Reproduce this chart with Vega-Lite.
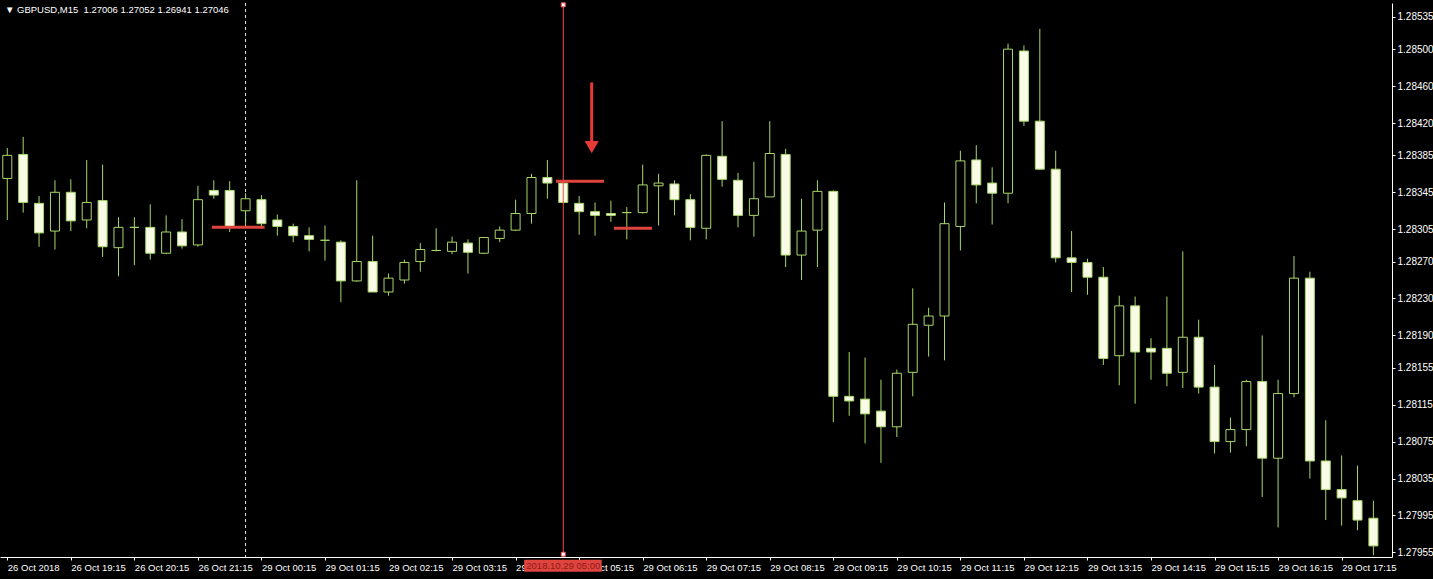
{
  "$schema": "https://vega.github.io/schema/vega-lite/v6.json",
  "width": 1392,
  "height": 554,
  "autosize": {"type": "none"},
  "padding": {"left": 0, "top": 3, "right": 41, "bottom": 22},
  "background": "#000000",
  "title": {
    "text": "▼ GBPUSD,M15 \u00a01.27006 1.27052 1.26941 1.27046",
    "anchor": "start",
    "frame": "group",
    "orient": "top",
    "baseline": "top",
    "offset": -3,
    "dx": 5,
    "dy": 11,
    "color": "#ffffff",
    "font": "Liberation Sans",
    "fontSize": 9.5,
    "fontWeight": "normal"
  },
  "config": {
    "view": {"stroke": null},
    "axis": {
      "domainColor": "#ffffff",
      "tickColor": "#ffffff",
      "labelColor": "#ffffff",
      "grid": false,
      "labelFont": "Liberation Sans",
      "labelFontSize": 10,
      "domainWidth": 1,
      "tickWidth": 1,
      "title": null
    }
  },
  "datasets": {
    "candles": [
      {"k":0,"o":1.28360,"h":1.28393,"l":1.28315,"c":1.28385},
      {"k":1,"o":1.28386,"h":1.28405,"l":1.28323,"c":1.28334},
      {"k":2,"o":1.28333,"h":1.28341,"l":1.28286,"c":1.28301},
      {"k":3,"o":1.28303,"h":1.28358,"l":1.28283,"c":1.28345},
      {"k":4,"o":1.28345,"h":1.28359,"l":1.28303,"c":1.28314},
      {"k":5,"o":1.28315,"h":1.28380,"l":1.28306,"c":1.28334},
      {"k":6,"o":1.28336,"h":1.28375,"l":1.28275,"c":1.28286},
      {"k":7,"o":1.28285,"h":1.28318,"l":1.28254,"c":1.28307},
      {"k":8,"o":1.28307,"h":1.28318,"l":1.28266,"c":1.28307},
      {"k":9,"o":1.28307,"h":1.28332,"l":1.28272,"c":1.28279},
      {"k":10,"o":1.28279,"h":1.28320,"l":1.28278,"c":1.28302},
      {"k":11,"o":1.28302,"h":1.28316,"l":1.28284,"c":1.28287},
      {"k":12,"o":1.28288,"h":1.28352,"l":1.28286,"c":1.28337},
      {"k":13,"o":1.28347,"h":1.28358,"l":1.28338,"c":1.28342},
      {"k":14,"o":1.28347,"h":1.28357,"l":1.28302,"c":1.28308},
      {"k":15,"o":1.28325,"h":1.28344,"l":1.28308,"c":1.28338},
      {"k":16,"o":1.28337,"h":1.28342,"l":1.28306,"c":1.28311},
      {"k":17,"o":1.28315,"h":1.28321,"l":1.28298,"c":1.28308},
      {"k":18,"o":1.28308,"h":1.28311,"l":1.28291,"c":1.28298},
      {"k":19,"o":1.28298,"h":1.28307,"l":1.28281,"c":1.28294},
      {"k":20,"o":1.28293,"h":1.28309,"l":1.28271,"c":1.28293},
      {"k":21,"o":1.28291,"h":1.28293,"l":1.28226,"c":1.28249},
      {"k":22,"o":1.28249,"h":1.28358,"l":1.28248,"c":1.28270},
      {"k":23,"o":1.28270,"h":1.28298,"l":1.28237,"c":1.28237},
      {"k":24,"o":1.28237,"h":1.28257,"l":1.28233,"c":1.28252},
      {"k":25,"o":1.28250,"h":1.28272,"l":1.28246,"c":1.28269},
      {"k":26,"o":1.28270,"h":1.28290,"l":1.28259,"c":1.28283},
      {"k":27,"o":1.28282,"h":1.28306,"l":1.28281,"c":1.28282},
      {"k":28,"o":1.28281,"h":1.28297,"l":1.28278,"c":1.28291},
      {"k":29,"o":1.28290,"h":1.28294,"l":1.28257,"c":1.28280},
      {"k":30,"o":1.28279,"h":1.28296,"l":1.28278,"c":1.28296},
      {"k":31,"o":1.28295,"h":1.28308,"l":1.28291,"c":1.28304},
      {"k":32,"o":1.28304,"h":1.28337,"l":1.28303,"c":1.28322},
      {"k":33,"o":1.28322,"h":1.28365,"l":1.28311,"c":1.28361},
      {"k":34,"o":1.28361,"h":1.28380,"l":1.28338,"c":1.28355},
      {"k":35,"o":1.28355,"h":1.28357,"l":1.28333,"c":1.28334},
      {"k":36,"o":1.28333,"h":1.28341,"l":1.28299,"c":1.28324},
      {"k":37,"o":1.28324,"h":1.28334,"l":1.28298,"c":1.28320},
      {"k":38,"o":1.28322,"h":1.28336,"l":1.28313,"c":1.28320},
      {"k":39,"o":1.28323,"h":1.28329,"l":1.28294,"c":1.28323},
      {"k":40,"o":1.28323,"h":1.28375,"l":1.28322,"c":1.28353},
      {"k":41,"o":1.28352,"h":1.28365,"l":1.28309,"c":1.28355},
      {"k":42,"o":1.28354,"h":1.28358,"l":1.28320,"c":1.28337},
      {"k":43,"o":1.28337,"h":1.28343,"l":1.28293,"c":1.28307},
      {"k":44,"o":1.28306,"h":1.28386,"l":1.28294,"c":1.28385},
      {"k":45,"o":1.28384,"h":1.28422,"l":1.28351,"c":1.28359},
      {"k":46,"o":1.28358,"h":1.28366,"l":1.28307,"c":1.28320},
      {"k":47,"o":1.28320,"h":1.28378,"l":1.28297,"c":1.28338},
      {"k":48,"o":1.28340,"h":1.28422,"l":1.28340,"c":1.28387},
      {"k":49,"o":1.28386,"h":1.28392,"l":1.28264,"c":1.28277},
      {"k":50,"o":1.28277,"h":1.28338,"l":1.28250,"c":1.28303},
      {"k":51,"o":1.28304,"h":1.28358,"l":1.28264,"c":1.28346},
      {"k":52,"o":1.28346,"h":1.28347,"l":1.28096,"c":1.28124},
      {"k":53,"o":1.28124,"h":1.28172,"l":1.28103,"c":1.28119},
      {"k":54,"o":1.28121,"h":1.28166,"l":1.28073,"c":1.28105},
      {"k":55,"o":1.28108,"h":1.28142,"l":1.28052,"c":1.28091},
      {"k":56,"o":1.28091,"h":1.28153,"l":1.28080,"c":1.28149},
      {"k":57,"o":1.28150,"h":1.28241,"l":1.28124,"c":1.28202},
      {"k":58,"o":1.28201,"h":1.28220,"l":1.28167,"c":1.28211},
      {"k":59,"o":1.28211,"h":1.28334,"l":1.28163,"c":1.28311},
      {"k":60,"o":1.28308,"h":1.28390,"l":1.28282,"c":1.28379},
      {"k":61,"o":1.28380,"h":1.28396,"l":1.28333,"c":1.28353},
      {"k":62,"o":1.28355,"h":1.28372,"l":1.28310,"c":1.28344},
      {"k":63,"o":1.28344,"h":1.28506,"l":1.28333,"c":1.28500},
      {"k":64,"o":1.28498,"h":1.28504,"l":1.28417,"c":1.28422},
      {"k":65,"o":1.28422,"h":1.28522,"l":1.28369,"c":1.28370},
      {"k":66,"o":1.28370,"h":1.28390,"l":1.28269,"c":1.28274},
      {"k":67,"o":1.28274,"h":1.28303,"l":1.28237,"c":1.28269},
      {"k":68,"o":1.28269,"h":1.28273,"l":1.28234,"c":1.28253},
      {"k":69,"o":1.28253,"h":1.28264,"l":1.28158,"c":1.28165},
      {"k":70,"o":1.28168,"h":1.28233,"l":1.28136,"c":1.28222},
      {"k":71,"o":1.28222,"h":1.28232,"l":1.28116,"c":1.28172},
      {"k":72,"o":1.28176,"h":1.28187,"l":1.28142,"c":1.28172},
      {"k":73,"o":1.28176,"h":1.28232,"l":1.28135,"c":1.28149},
      {"k":74,"o":1.28150,"h":1.28281,"l":1.28133,"c":1.28188},
      {"k":75,"o":1.28188,"h":1.28207,"l":1.28127,"c":1.28134},
      {"k":76,"o":1.28134,"h":1.28158,"l":1.28062,"c":1.28075},
      {"k":77,"o":1.28075,"h":1.28101,"l":1.28063,"c":1.28088},
      {"k":78,"o":1.28088,"h":1.28142,"l":1.28070,"c":1.28140},
      {"k":79,"o":1.28140,"h":1.28190,"l":1.28015,"c":1.28057},
      {"k":80,"o":1.28057,"h":1.28142,"l":1.27982,"c":1.28127},
      {"k":81,"o":1.28127,"h":1.28276,"l":1.28123,"c":1.28252},
      {"k":82,"o":1.28252,"h":1.28259,"l":1.28035,"c":1.28054},
      {"k":83,"o":1.28054,"h":1.28098,"l":1.27990,"c":1.28023},
      {"k":84,"o":1.28023,"h":1.28060,"l":1.27984,"c":1.28014},
      {"k":85,"o":1.28011,"h":1.28049,"l":1.27979,"c":1.27990},
      {"k":86,"o":1.27992,"h":1.28011,"l":1.27952,"c":1.27962}
    ],
    "segments": [
      {"k1":12.875,"k2":16.2,"p":1.28307},
      {"k1":34.54,"k2":37.56,"p":1.28357},
      {"k1":38.19,"k2":40.59,"p":1.28306}
    ]
  },
  "layer": [
    {
      "data": {"values": [{"k": 15}]},
      "mark": {"type": "rule", "color": "#e8e8e8", "strokeWidth": 1, "strokeDash": [3, 3]},
      "encoding": {
        "x": {"field": "k", "type": "quantitative", "scale": {"domain": [-0.144, 86.856], "nice": false, "zero": false},
          "axis": {"orient": "bottom", "title": null, "values": [0,4,8,12,16,20,24,28,32,36,40,44,48,52,56,60,64,68,72,76,80,84], "labelExpr": "['26 Oct 2018','26 Oct 19:15','26 Oct 20:15','26 Oct 21:15','29 Oct 00:15','29 Oct 01:15','29 Oct 02:15','29 Oct 03:15','29 Oct 04:15','29 Oct 05:15','29 Oct 06:15','29 Oct 07:15','29 Oct 08:15','29 Oct 09:15','29 Oct 10:15','29 Oct 11:15','29 Oct 12:15','29 Oct 13:15','29 Oct 14:15','29 Oct 15:15','29 Oct 16:15','29 Oct 17:15'][round(datum.value/4)]", "labelAlign": "left", "labelBaseline": "top", "labelPadding": 2, "labelFontSize": 9.5, "labelFlush": false, "labelBound": false, "labelOverlap": false, "tickSize": 3}}
      }
    },
    {
      "data": {"name": "candles"},
      "mark": {"type": "rule", "color": "#a8d66a", "strokeWidth": 1},
      "encoding": {
        "x": {"field": "k", "type": "quantitative", "scale": {"domain": [-0.144, 86.856], "nice": false, "zero": false},
          "axis": {"orient": "bottom", "title": null, "values": [0,4,8,12,16,20,24,28,32,36,40,44,48,52,56,60,64,68,72,76,80,84], "labelExpr": "['26 Oct 2018','26 Oct 19:15','26 Oct 20:15','26 Oct 21:15','29 Oct 00:15','29 Oct 01:15','29 Oct 02:15','29 Oct 03:15','29 Oct 04:15','29 Oct 05:15','29 Oct 06:15','29 Oct 07:15','29 Oct 08:15','29 Oct 09:15','29 Oct 10:15','29 Oct 11:15','29 Oct 12:15','29 Oct 13:15','29 Oct 14:15','29 Oct 15:15','29 Oct 16:15','29 Oct 17:15'][round(datum.value/4)]", "labelAlign": "left", "labelBaseline": "top", "labelPadding": 2, "labelFontSize": 9.5, "labelFlush": false, "labelBound": false, "labelOverlap": false, "tickSize": 3}},
        "y": {"field": "l", "type": "quantitative", "scale": {"domain": [1.2795, 1.2855], "nice": false, "zero": false},
          "axis": {"orient": "right", "title": null, "values": [1.27955,1.27995,1.28035,1.28075,1.28115,1.28155,1.2819,1.2823,1.2827,1.28305,1.28345,1.28385,1.2842,1.2846,1.285,1.28535], "format": ".5f", "labelAlign": "left", "labelBaseline": "middle", "labelPadding": 2, "labelFontSize": 10, "tickSize": 3, "labelOverlap": false, "labelFlush": false}},
        "y2": {"field": "h"}
      }
    },
    {
      "data": {"name": "candles"},
      "mark": {"type": "bar", "width": 9, "stroke": "#a8d66a", "strokeWidth": 1},
      "encoding": {
        "x": {"field": "k", "type": "quantitative", "scale": {"domain": [-0.144, 86.856], "nice": false, "zero": false},
          "axis": {"orient": "bottom", "title": null, "values": [0,4,8,12,16,20,24,28,32,36,40,44,48,52,56,60,64,68,72,76,80,84], "labelExpr": "['26 Oct 2018','26 Oct 19:15','26 Oct 20:15','26 Oct 21:15','29 Oct 00:15','29 Oct 01:15','29 Oct 02:15','29 Oct 03:15','29 Oct 04:15','29 Oct 05:15','29 Oct 06:15','29 Oct 07:15','29 Oct 08:15','29 Oct 09:15','29 Oct 10:15','29 Oct 11:15','29 Oct 12:15','29 Oct 13:15','29 Oct 14:15','29 Oct 15:15','29 Oct 16:15','29 Oct 17:15'][round(datum.value/4)]", "labelAlign": "left", "labelBaseline": "top", "labelPadding": 2, "labelFontSize": 9.5, "labelFlush": false, "labelBound": false, "labelOverlap": false, "tickSize": 3}},
        "y": {"field": "o", "type": "quantitative", "scale": {"domain": [1.2795, 1.2855], "nice": false, "zero": false},
          "axis": {"orient": "right", "title": null, "values": [1.27955,1.27995,1.28035,1.28075,1.28115,1.28155,1.2819,1.2823,1.2827,1.28305,1.28345,1.28385,1.2842,1.2846,1.285,1.28535], "format": ".5f", "labelAlign": "left", "labelBaseline": "middle", "labelPadding": 2, "labelFontSize": 10, "tickSize": 3, "labelOverlap": false, "labelFlush": false}},
        "y2": {"field": "c"},
        "fill": {
          "condition": {"test": "datum.c < datum.o", "value": "#fafbe6"},
          "value": "#000000"
        }
      }
    },
    {
      "data": {"values": [{"k": 35}]},
      "mark": {"type": "rule", "color": "#f05050", "strokeWidth": 1},
      "encoding": {
        "x": {"field": "k", "type": "quantitative", "scale": {"domain": [-0.144, 86.856], "nice": false, "zero": false},
          "axis": {"orient": "bottom", "title": null, "values": [0,4,8,12,16,20,24,28,32,36,40,44,48,52,56,60,64,68,72,76,80,84], "labelExpr": "['26 Oct 2018','26 Oct 19:15','26 Oct 20:15','26 Oct 21:15','29 Oct 00:15','29 Oct 01:15','29 Oct 02:15','29 Oct 03:15','29 Oct 04:15','29 Oct 05:15','29 Oct 06:15','29 Oct 07:15','29 Oct 08:15','29 Oct 09:15','29 Oct 10:15','29 Oct 11:15','29 Oct 12:15','29 Oct 13:15','29 Oct 14:15','29 Oct 15:15','29 Oct 16:15','29 Oct 17:15'][round(datum.value/4)]", "labelAlign": "left", "labelBaseline": "top", "labelPadding": 2, "labelFontSize": 9.5, "labelFlush": false, "labelBound": false, "labelOverlap": false, "tickSize": 3}}
      }
    },
    {
      "data": {"name": "segments"},
      "mark": {"type": "rule", "color": "#e0443e", "strokeWidth": 3},
      "encoding": {
        "x": {"field": "k1", "type": "quantitative", "scale": {"domain": [-0.144, 86.856], "nice": false, "zero": false},
          "axis": {"orient": "bottom", "title": null, "values": [0,4,8,12,16,20,24,28,32,36,40,44,48,52,56,60,64,68,72,76,80,84], "labelExpr": "['26 Oct 2018','26 Oct 19:15','26 Oct 20:15','26 Oct 21:15','29 Oct 00:15','29 Oct 01:15','29 Oct 02:15','29 Oct 03:15','29 Oct 04:15','29 Oct 05:15','29 Oct 06:15','29 Oct 07:15','29 Oct 08:15','29 Oct 09:15','29 Oct 10:15','29 Oct 11:15','29 Oct 12:15','29 Oct 13:15','29 Oct 14:15','29 Oct 15:15','29 Oct 16:15','29 Oct 17:15'][round(datum.value/4)]", "labelAlign": "left", "labelBaseline": "top", "labelPadding": 2, "labelFontSize": 9.5, "labelFlush": false, "labelBound": false, "labelOverlap": false, "tickSize": 3}},
        "x2": {"field": "k2"},
        "y": {"field": "p", "type": "quantitative", "scale": {"domain": [1.2795, 1.2855], "nice": false, "zero": false},
          "axis": {"orient": "right", "title": null, "values": [1.27955,1.27995,1.28035,1.28075,1.28115,1.28155,1.2819,1.2823,1.2827,1.28305,1.28345,1.28385,1.2842,1.2846,1.285,1.28535], "format": ".5f", "labelAlign": "left", "labelBaseline": "middle", "labelPadding": 2, "labelFontSize": 10, "tickSize": 3, "labelOverlap": false, "labelFlush": false}}
      }
    },
    {
      "data": {"values": [{"k": 36.79, "p1": 1.28464, "p2": 1.28398}]},
      "mark": {"type": "rule", "color": "#e53a35", "strokeWidth": 3},
      "encoding": {
        "x": {"field": "k", "type": "quantitative", "scale": {"domain": [-0.144, 86.856], "nice": false, "zero": false},
          "axis": {"orient": "bottom", "title": null, "values": [0,4,8,12,16,20,24,28,32,36,40,44,48,52,56,60,64,68,72,76,80,84], "labelExpr": "['26 Oct 2018','26 Oct 19:15','26 Oct 20:15','26 Oct 21:15','29 Oct 00:15','29 Oct 01:15','29 Oct 02:15','29 Oct 03:15','29 Oct 04:15','29 Oct 05:15','29 Oct 06:15','29 Oct 07:15','29 Oct 08:15','29 Oct 09:15','29 Oct 10:15','29 Oct 11:15','29 Oct 12:15','29 Oct 13:15','29 Oct 14:15','29 Oct 15:15','29 Oct 16:15','29 Oct 17:15'][round(datum.value/4)]", "labelAlign": "left", "labelBaseline": "top", "labelPadding": 2, "labelFontSize": 9.5, "labelFlush": false, "labelBound": false, "labelOverlap": false, "tickSize": 3}},
        "y": {"field": "p1", "type": "quantitative", "scale": {"domain": [1.2795, 1.2855], "nice": false, "zero": false},
          "axis": {"orient": "right", "title": null, "values": [1.27955,1.27995,1.28035,1.28075,1.28115,1.28155,1.2819,1.2823,1.2827,1.28305,1.28345,1.28385,1.2842,1.2846,1.285,1.28535], "format": ".5f", "labelAlign": "left", "labelBaseline": "middle", "labelPadding": 2, "labelFontSize": 10, "tickSize": 3, "labelOverlap": false, "labelFlush": false}},
        "y2": {"field": "p2"}
      }
    },
    {
      "data": {"values": [{"k": 36.79, "p": 1.28394}]},
      "mark": {"type": "point", "shape": "triangle-down", "filled": true, "color": "#e53a35", "size": 200, "opacity": 1},
      "encoding": {
        "x": {"field": "k", "type": "quantitative", "scale": {"domain": [-0.144, 86.856], "nice": false, "zero": false},
          "axis": {"orient": "bottom", "title": null, "values": [0,4,8,12,16,20,24,28,32,36,40,44,48,52,56,60,64,68,72,76,80,84], "labelExpr": "['26 Oct 2018','26 Oct 19:15','26 Oct 20:15','26 Oct 21:15','29 Oct 00:15','29 Oct 01:15','29 Oct 02:15','29 Oct 03:15','29 Oct 04:15','29 Oct 05:15','29 Oct 06:15','29 Oct 07:15','29 Oct 08:15','29 Oct 09:15','29 Oct 10:15','29 Oct 11:15','29 Oct 12:15','29 Oct 13:15','29 Oct 14:15','29 Oct 15:15','29 Oct 16:15','29 Oct 17:15'][round(datum.value/4)]", "labelAlign": "left", "labelBaseline": "top", "labelPadding": 2, "labelFontSize": 9.5, "labelFlush": false, "labelBound": false, "labelOverlap": false, "tickSize": 3}},
        "y": {"field": "p", "type": "quantitative", "scale": {"domain": [1.2795, 1.2855], "nice": false, "zero": false},
          "axis": {"orient": "right", "title": null, "values": [1.27955,1.27995,1.28035,1.28075,1.28115,1.28155,1.2819,1.2823,1.2827,1.28305,1.28345,1.28385,1.2842,1.2846,1.285,1.28535], "format": ".5f", "labelAlign": "left", "labelBaseline": "middle", "labelPadding": 2, "labelFontSize": 10, "tickSize": 3, "labelOverlap": false, "labelFlush": false}}
      }
    },
    {
      "data": {"values": [{"k1": 32.54, "k2": 37.42, "p1": 1.27947, "p2": 1.27934}]},
      "mark": {"type": "rect", "color": "#e0443e"},
      "encoding": {
        "x": {"field": "k1", "type": "quantitative", "scale": {"domain": [-0.144, 86.856], "nice": false, "zero": false},
          "axis": {"orient": "bottom", "title": null, "values": [0,4,8,12,16,20,24,28,32,36,40,44,48,52,56,60,64,68,72,76,80,84], "labelExpr": "['26 Oct 2018','26 Oct 19:15','26 Oct 20:15','26 Oct 21:15','29 Oct 00:15','29 Oct 01:15','29 Oct 02:15','29 Oct 03:15','29 Oct 04:15','29 Oct 05:15','29 Oct 06:15','29 Oct 07:15','29 Oct 08:15','29 Oct 09:15','29 Oct 10:15','29 Oct 11:15','29 Oct 12:15','29 Oct 13:15','29 Oct 14:15','29 Oct 15:15','29 Oct 16:15','29 Oct 17:15'][round(datum.value/4)]", "labelAlign": "left", "labelBaseline": "top", "labelPadding": 2, "labelFontSize": 9.5, "labelFlush": false, "labelBound": false, "labelOverlap": false, "tickSize": 3}},
        "x2": {"field": "k2"},
        "y": {"field": "p1", "type": "quantitative", "scale": {"domain": [1.2795, 1.2855], "nice": false, "zero": false},
          "axis": {"orient": "right", "title": null, "values": [1.27955,1.27995,1.28035,1.28075,1.28115,1.28155,1.2819,1.2823,1.2827,1.28305,1.28345,1.28385,1.2842,1.2846,1.285,1.28535], "format": ".5f", "labelAlign": "left", "labelBaseline": "middle", "labelPadding": 2, "labelFontSize": 10, "tickSize": 3, "labelOverlap": false, "labelFlush": false}},
        "y2": {"field": "p2"}
      }
    },
    {
      "data": {"values": [{"k": 35.0, "p": 1.279405, "label": "2018.10.29 05:00"}]},
      "mark": {"type": "text", "color": "#8e1b1b", "font": "Liberation Sans", "fontSize": 9.5, "align": "center", "baseline": "middle"},
      "encoding": {
        "x": {"field": "k", "type": "quantitative", "scale": {"domain": [-0.144, 86.856], "nice": false, "zero": false},
          "axis": {"orient": "bottom", "title": null, "values": [0,4,8,12,16,20,24,28,32,36,40,44,48,52,56,60,64,68,72,76,80,84], "labelExpr": "['26 Oct 2018','26 Oct 19:15','26 Oct 20:15','26 Oct 21:15','29 Oct 00:15','29 Oct 01:15','29 Oct 02:15','29 Oct 03:15','29 Oct 04:15','29 Oct 05:15','29 Oct 06:15','29 Oct 07:15','29 Oct 08:15','29 Oct 09:15','29 Oct 10:15','29 Oct 11:15','29 Oct 12:15','29 Oct 13:15','29 Oct 14:15','29 Oct 15:15','29 Oct 16:15','29 Oct 17:15'][round(datum.value/4)]", "labelAlign": "left", "labelBaseline": "top", "labelPadding": 2, "labelFontSize": 9.5, "labelFlush": false, "labelBound": false, "labelOverlap": false, "tickSize": 3}},
        "y": {"field": "p", "type": "quantitative", "scale": {"domain": [1.2795, 1.2855], "nice": false, "zero": false},
          "axis": {"orient": "right", "title": null, "values": [1.27955,1.27995,1.28035,1.28075,1.28115,1.28155,1.2819,1.2823,1.2827,1.28305,1.28345,1.28385,1.2842,1.2846,1.285,1.28535], "format": ".5f", "labelAlign": "left", "labelBaseline": "middle", "labelPadding": 2, "labelFontSize": 10, "tickSize": 3, "labelOverlap": false, "labelFlush": false}},
        "text": {"field": "label"}
      }
    },
    {
      "data": {"values": [{"k": 35, "p": 1.28548}, {"k": 35, "p": 1.27953}]},
      "mark": {"type": "point", "shape": "square", "filled": true, "color": "#ffffff", "size": 16, "opacity": 1, "stroke": "#f05050", "strokeWidth": 1},
      "encoding": {
        "x": {"field": "k", "type": "quantitative", "scale": {"domain": [-0.144, 86.856], "nice": false, "zero": false},
          "axis": {"orient": "bottom", "title": null, "values": [0,4,8,12,16,20,24,28,32,36,40,44,48,52,56,60,64,68,72,76,80,84], "labelExpr": "['26 Oct 2018','26 Oct 19:15','26 Oct 20:15','26 Oct 21:15','29 Oct 00:15','29 Oct 01:15','29 Oct 02:15','29 Oct 03:15','29 Oct 04:15','29 Oct 05:15','29 Oct 06:15','29 Oct 07:15','29 Oct 08:15','29 Oct 09:15','29 Oct 10:15','29 Oct 11:15','29 Oct 12:15','29 Oct 13:15','29 Oct 14:15','29 Oct 15:15','29 Oct 16:15','29 Oct 17:15'][round(datum.value/4)]", "labelAlign": "left", "labelBaseline": "top", "labelPadding": 2, "labelFontSize": 9.5, "labelFlush": false, "labelBound": false, "labelOverlap": false, "tickSize": 3}},
        "y": {"field": "p", "type": "quantitative", "scale": {"domain": [1.2795, 1.2855], "nice": false, "zero": false},
          "axis": {"orient": "right", "title": null, "values": [1.27955,1.27995,1.28035,1.28075,1.28115,1.28155,1.2819,1.2823,1.2827,1.28305,1.28345,1.28385,1.2842,1.2846,1.285,1.28535], "format": ".5f", "labelAlign": "left", "labelBaseline": "middle", "labelPadding": 2, "labelFontSize": 10, "tickSize": 3, "labelOverlap": false, "labelFlush": false}}
      }
    }
  ]
}
